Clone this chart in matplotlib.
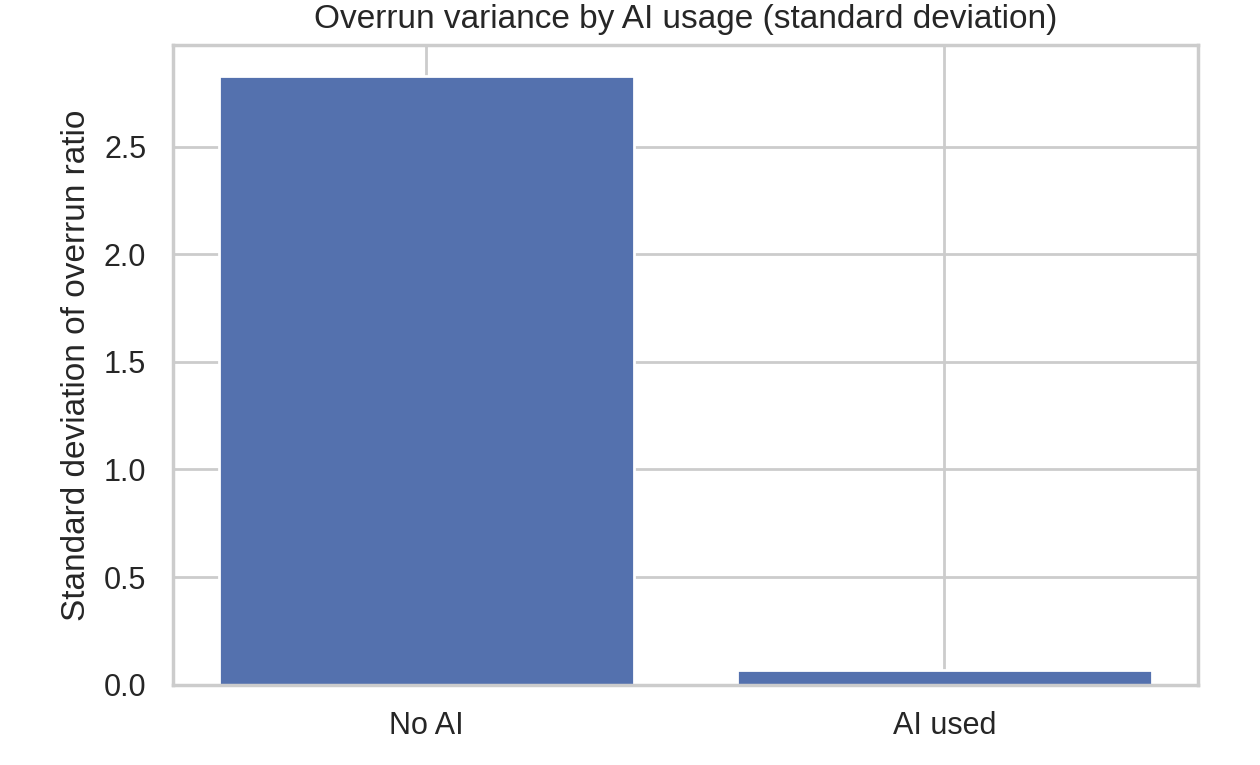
import matplotlib
matplotlib.use("Agg")
import matplotlib.pyplot as plt
import seaborn as sns

sns.set_theme(style="whitegrid")
plt.rcParams['font.family'] = ['Liberation Sans', 'DejaVu Sans']

categories = ["No AI", "AI used"]
std_values = [2.83, 0.07]

fig, ax = plt.subplots(figsize=(6.3, 3.825), dpi=200)
ax.bar(categories, std_values, color="#5471ae")
ax.set_title("Overrun variance by AI usage (standard deviation)")
ax.set_ylabel("Standard deviation of overrun ratio")
fig.subplots_adjust(left=0.137, right=0.951, top=0.941, bottom=0.105)
fig.savefig("out.png", dpi=200)
